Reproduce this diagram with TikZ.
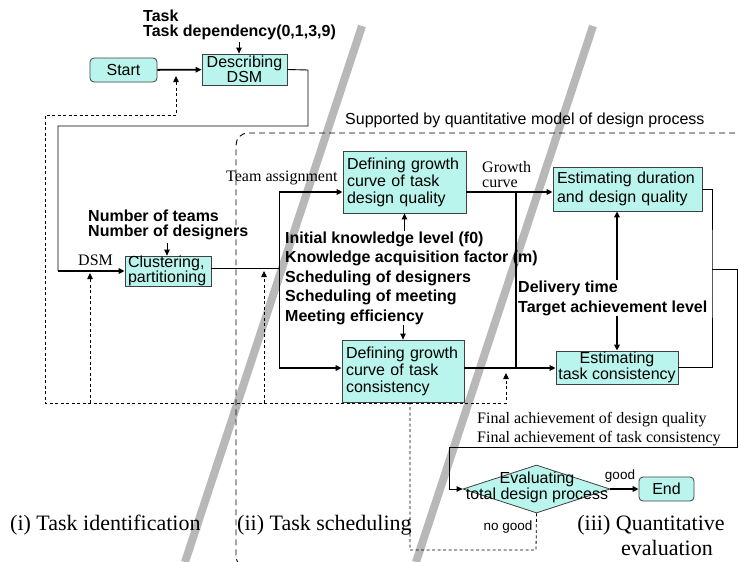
\documentclass[tikz,border=0pt]{standalone}
\usepackage{fontspec}
\setmainfont{Liberation Serif}
\newfontfamily\arialf{Liberation Sans}
\usetikzlibrary{shapes.geometric,arrows.meta}
\definecolor{boxcyan}{RGB}{185,245,236}
\definecolor{barg}{RGB}{184,184,184}
\begin{document}
\begin{tikzpicture}[x=1pt,y=-1pt,
 box/.style={draw=black!75, fill=boxcyan, line width=0.8pt, inner sep=0pt, font=\arialf\fontsize{16}{17}\selectfont},
 rbox/.style={box, rounded corners=4pt},
 lbl/.style={inner sep=0pt, font=\arialf\bfseries\fontsize{16}{15}\selectfont, align=left},
 ser/.style={inner sep=0pt, font=\fontsize{16}{14}\selectfont, align=left},
 big/.style={inner sep=0pt, font=\fontsize{22}{23}\selectfont},
 ln/.style={line width=0.9pt},
 tk/.style={line width=1.8pt},
 tip/.style={-{Triangle[length=6pt,width=5.5pt]}},
 fb/.style={line width=0.8pt, dash pattern=on 3pt off 2.5pt},
 bar/.style={barg, line width=8pt},
 region/.style={line width=0.9pt, dash pattern=on 6pt off 4pt, rounded corners=12pt}
]
\useasboundingbox (0,0) rectangle (739,562);
% gray phase separators
\draw[bar] (362,26) -- (185,562);
\draw[bar] (593,26) -- (416,562);
% supported region
\node[inner sep=0pt, anchor=west, font=\arialf\fontsize{16}{16}\selectfont] (sup) at (345,120) {Supported by quantitative model of design process};
\draw[region] (745,133) -- (236,133) -- (236,568) -- (270,568);

% boxes
\node[rbox, minimum width=67, minimum height=24] (start) at (123.5,70) {Start};
\node[box, minimum width=85, minimum height=31, align=center, font=\arialf\fontsize{16}{15}\selectfont] (dsm) at (244.5,69.5) {Describing\\DSM};
\node[box, minimum width=86, minimum height=30, text width=80, align=left, font=\arialf\fontsize{16}{15}\selectfont] (clu) at (168,271) {Clustering,\\partitioning};
\node[box, minimum width=123, minimum height=62, text width=115, align=left] (defq) at (404.5,182) {Defining growth\\curve of task\\design quality};
\node[box, minimum width=122, minimum height=62, text width=114, align=left] (defc) at (403,371) {Defining growth\\curve of task\\consistency};
\node[box, minimum width=149, minimum height=44, text width=141, align=left, font=\arialf\fontsize{16}{19}\selectfont] (estd) at (627.5,189) {Estimating duration\\and design quality};
\node[box, minimum width=122, minimum height=33, align=center, font=\arialf\fontsize{16}{16}\selectfont] (estc) at (617,367.5) {Estimating\\task consistency};
\node[diamond, draw=black!75, fill=boxcyan, line width=0.8pt, inner sep=0pt, minimum width=147, minimum height=48] (eval) at (536.5,489) {};
\node[inner sep=0pt, align=center, font=\arialf\fontsize{16}{14}\selectfont] (evaltxt) at (537,487) {Evaluating\\total design process};
\node[rbox, minimum width=55, minimum height=24] (end) at (666.5,489) {End};

% labels
\node[lbl, anchor=west] (task) at (143,25) {Task\\Task dependency(0,1,3,9)};
\node[lbl, anchor=west] (nteam) at (88,224.5) {Number of teams\\Number of designers};
\node[lbl, anchor=west, font=\arialf\bfseries\fontsize{16}{19.5}\selectfont] (params) at (285,278) {Initial knowledge level (f0)\\Knowledge acquisition factor (m)\\Scheduling of designers\\Scheduling of meeting\\Meeting efficiency};
\node[lbl, anchor=west, font=\arialf\bfseries\fontsize{16}{20}\selectfont] (deliv) at (518,298) {Delivery time\\Target achievement level};
\node[ser, anchor=west] (team) at (226,178) {Team assignment};
\node[ser, anchor=west, font=\fontsize{16}{15}\selectfont] (growth) at (482,175) {Growth\\curve};
\node[ser, anchor=west] (dsmlbl) at (78,260) {DSM};
\node[ser, anchor=west, font=\fontsize{16}{19}\selectfont] (final) at (477,429.5) {Final achievement of design quality\\Final achievement of task consistency};
\node[inner sep=0pt, font=\arialf\fontsize{13.5}{14}\selectfont] (good) at (620,476) {good};
\node[inner sep=0pt, font=\arialf\fontsize{13.5}{14}\selectfont] (nogood) at (508,527) {no good};
\node[big, anchor=west] (ph1) at (10,525) {(i) Task identification};
\node[big, anchor=west] (ph2) at (237,525) {(ii) Task scheduling};
\node[big] (ph3a) at (651,525) {(iii) Quantitative};
\node[big] (ph3b) at (667,548) {evaluation};

% coordinates
\coordinate (taskarr) at (239,42);
\coordinate (r1) at (308,70);
\coordinate (r2) at (308,126);
\coordinate (r3) at (58,126);
\coordinate (r4) at (58,271);
\coordinate (ntarr) at (167,243);
\coordinate (split) at (279,268);
\coordinate (ta1) at (279,192);
\coordinate (ta2) at (279,368);
\coordinate (gv1) at (516,192);
\coordinate (gv2) at (516,368);
\coordinate (dv) at (617,298);
\coordinate (ro) at (712,269);
\coordinate (ro2) at (737,269);
\coordinate (ro3) at (737,447);
\coordinate (ro4) at (449,447);
\coordinate (ro5) at (449,489);

% main flow
\draw[tk, tip] (start) -- (dsm);
\draw[ln, tip] (taskarr) -- (taskarr |- dsm.north);
\draw[ln] (dsm.east) -- (r1) -- (r2) -- (r3) -- (r4);
\draw[tk, tip] (r4) -- (clu.west);
\draw[ln, tip] (ntarr) -- (ntarr |- clu.north);
\draw[ln] (clu.east |- split) -- (split);
\draw[ln] (ta1) -- (ta2);
\draw[tk, tip] (ta1) -- (ta1 -| defq.west);
\draw[tk, tip] (ta2) -- (ta2 -| defc.west);
\draw[ln, tip] (defq.south |- params.north) -- (defq.south);
\draw[ln, tip] (defc.north |- params.south) -- (defc.north);
\draw[tk, tip] (defq.east |- ta1) -- (ta1 -| estd.west);
\draw[tk] (gv1) -- (gv2);
\draw[tk, tip] (defc.east |- ta2) -- (ta2 -| estc.west);
\draw[tk, tip] (dv |- deliv.north) -- (dv |- estd.south);
\draw[tk, tip] (dv |- deliv.south) -- (dv |- estc.north);
\draw[ln] (estd.east) -| (ro) |- (estc.east);
\draw[ln] (ro) -- (ro2) -- (ro3) -- (ro4) -- (ro5);
\draw[ln, tip] (ro5) -- (eval.west);
\draw[tk, tip] (eval.east) -- (end.west);

% feedback (dotted)
\coordinate (f1) at (536,550);
\coordinate (f2) at (410,550);
\coordinate (f3) at (410,403);
\coordinate (f4) at (506,403);
\coordinate (f5) at (506,373);
\coordinate (f6) at (45,403);
\coordinate (f7) at (45,115);
\coordinate (f8) at (176,115);
\coordinate (f9) at (176,76);
\coordinate (f10) at (90,403);
\coordinate (f11) at (90,273);
\coordinate (f12) at (264,403);
\coordinate (f13) at (264,271);
\draw[fb] (eval.south) -- (f1) -- (f2) -- (f3);
\draw[fb, tip] (f3) -- (f4) -- (f5);
\draw[fb, tip] (f3) -- (f6) -- (f7) -- (f8) -- (f9);
\draw[fb, tip] (f10) -- (f11);
\draw[fb, tip] (f12) -- (f13);
\end{tikzpicture}
\end{document}
